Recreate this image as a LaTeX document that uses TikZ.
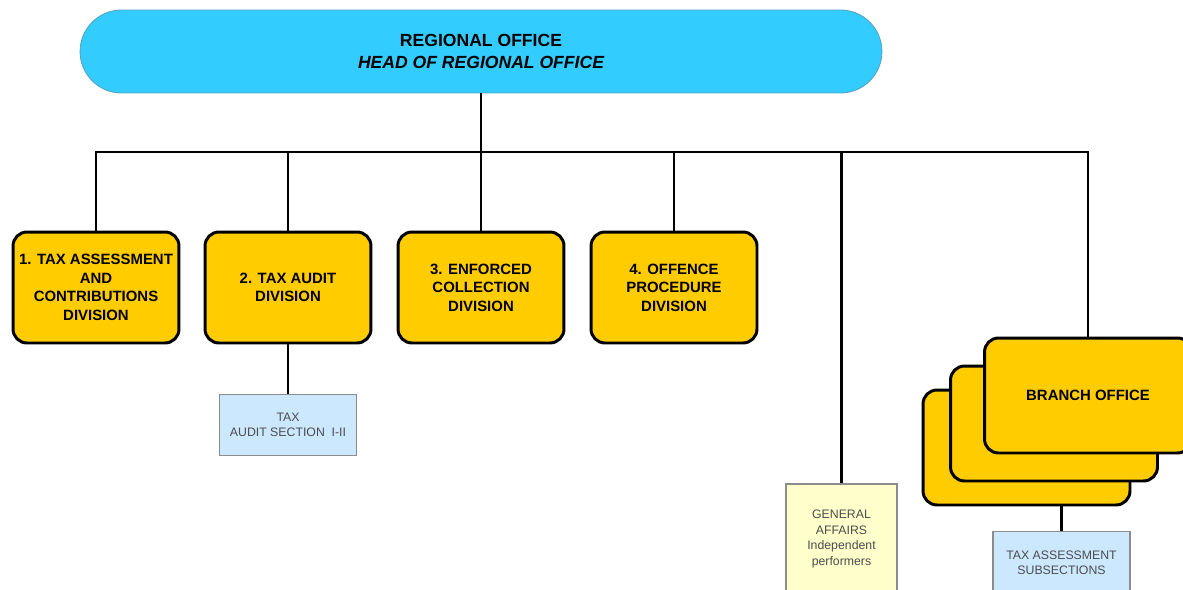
\documentclass[tikz,border=0pt]{standalone}
\usepackage{fontspec}
\setmainfont{Liberation Sans}
\definecolor{headblue}{HTML}{33CCFF}
\definecolor{divyellow}{HTML}{FFCC00}
\definecolor{secblue}{HTML}{CCE8FF}
\definecolor{secyellow}{HTML}{FFFFCC}
\tikzset{
  division/.style={rectangle, rounded corners=0.28cm, draw=black, line width=1.7pt, fill=divyellow,
    minimum width=3.32cm, minimum height=2.22cm, align=center, inner sep=1pt,
    font=\fontsize{8.5}{10.5}\selectfont\bfseries},
  section/.style={rectangle, draw=black!45, line width=0.6pt, minimum width=2.74cm, minimum height=1.23cm,
    align=center, text=black!70, font=\fontsize{7}{8.8}\selectfont},
  conn/.style={line width=1.4pt, black},
}
\begin{document}
\begin{tikzpicture}[x=0.02cm, y=-0.02cm]
			\clip (0,0) rectangle (1183,589);
			\fill[white] (0,0) rectangle (1183,589);
			\node[rectangle, rounded corners=0.83cm, draw=headblue!70!black!80, line width=0.5pt, fill=headblue,
			  minimum width=16.04cm, minimum height=1.66cm, align=center, font=\fontsize{10}{12.5}\selectfont\bfseries]
			  (head) at (481,51.5) {REGIONAL OFFICE\\\itshape HEAD OF REGIONAL OFFICE};
			\node[division] (assess) at (96,287.5) {1. TAX ASSESSMENT\\AND\\CONTRIBUTIONS\\DIVISION};
			\node[division] (audit) at (288,287.5) {2. TAX AUDIT\\DIVISION};
			\node[division] (collect) at (481,287.5) {3. ENFORCED\\COLLECTION\\DIVISION};
			\node[division] (offence) at (674,287.5) {4. OFFENCE\\PROCEDURE\\DIVISION};
			\node[section, fill=secblue] (auditsec) at (288,425) {TAX\\AUDIT SECTION~~I-II};
			\node[section, fill=secyellow, minimum width=2.22cm, minimum height=2.2cm] (general) at (841.5,539)
			  {GENERAL\\AFFAIRS\\Independent\\performers};
			% stacked branch offices
			\node[division, minimum width=4.14cm, minimum height=2.3cm] (branchc) at (1026.5,447.5) {};
			\node[division, minimum width=4.14cm, minimum height=2.3cm] (branchb) at (1054,423.5) {};
			\node[division, minimum width=4.14cm, minimum height=2.3cm] (brancha) at (1088,395.5) {BRANCH OFFICE};
			\node[section, fill=secblue] (subsec) at (1061.5,562.5) {TAX ASSESSMENT\\SUBSECTIONS};
			\coordinate (bus) at (481,152);
			\draw[conn] (head.south) -- (bus);
			\foreach \n in {assess,audit,collect,offence,general,brancha}
			  \draw[conn] (bus) -| (\n.north);
			\draw[conn] (auditsec.north) -- (auditsec.north |- audit.south);
			\draw[conn] (subsec.north) -- (subsec.north |- branchc.south);
\end{tikzpicture}
\end{document}
